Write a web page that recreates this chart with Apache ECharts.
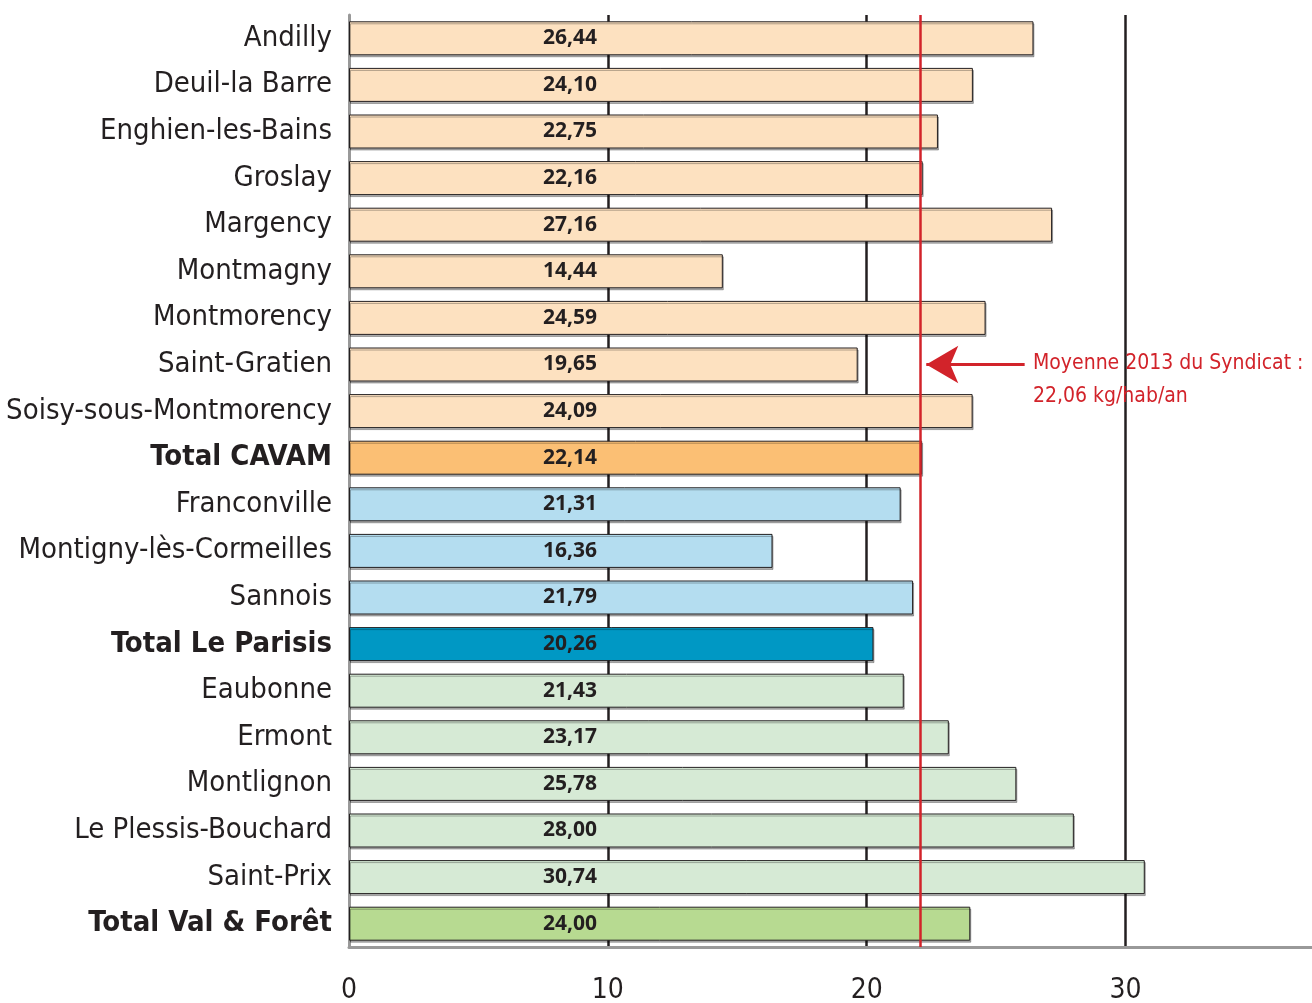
<!DOCTYPE html>
<html>
<head>
<meta charset="utf-8">
<script src="https://cdn.jsdelivr.net/npm/echarts@6/dist/echarts.min.js"></script>
<style>
  html, body { margin: 0; padding: 0; background: #fff; }
  #chart { width: 1312px; height: 1003px; }
</style>
</head>
<body>
<div id="chart"></div>
<script>
// communes, de haut en bas
var communes = ['Andilly', 'Deuil-la Barre', 'Enghien-les-Bains', 'Groslay', 'Margency',
  'Montmagny', 'Montmorency', 'Saint-Gratien', 'Soisy-sous-Montmorency', 'Total CAVAM',
  'Franconville', 'Montigny-lès-Cormeilles', 'Sannois', 'Total Le Parisis',
  'Eaubonne', 'Ermont', 'Montlignon', 'Le Plessis-Bouchard', 'Saint-Prix', 'Total Val & Forêt'];
var valeurs = [26.44, 24.10, 22.75, 22.16, 27.16, 14.44, 24.59, 19.65, 24.09, 22.14,
  21.31, 16.36, 21.79, 20.26, 21.43, 23.17, 25.78, 28.00, 30.74, 24.00];
// groupe de chaque barre (couleur)
var groupes = ['cavam', 'cavam', 'cavam', 'cavam', 'cavam', 'cavam', 'cavam', 'cavam', 'cavam', 'cavamTotal',
  'parisis', 'parisis', 'parisis', 'parisisTotal',
  'vf', 'vf', 'vf', 'vf', 'vf', 'vfTotal'];
var moyenne = 22.06;
var xTicks = [0, 10, 20, 30];

var couleurs = {
  cavam: '#fde1c0', cavamTotal: '#fbbf74',
  parisis: '#b4ddf0', parisisTotal: '#0098c4',
  vf: '#d6ead5', vfTotal: '#b7da91'
};
var rouge = '#d2232a';
var condensed = '"Liberation Sans Narrow", "DejaVu Sans Condensed", sans-serif';

var chart = echarts.init(document.getElementById('chart'));

var barData = valeurs.map(function (v, i) {
  return { value: v, itemStyle: { color: couleurs[groupes[i]] } };
});

var option = {
  animation: false,
  grid: { left: 349, right: 0, top: 15, bottom: 56, outerBoundsMode: 'none', containLabel: false },
  xAxis: {
    type: 'value',
    min: 0,
    max: 37.2,
    interval: 10,
    axisLine: { show: true, lineStyle: { color: '#999', width: 3 } },
    axisTick: { show: false },
    axisLabel: {
      color: '#231f20', fontSize: 28, fontFamily: condensed, margin: 30,
      showMaxLabel: false,
      formatter: function (v) { return xTicks.indexOf(v) >= 0 ? String(v) : ''; }
    },
    splitLine: {
      show: true,
      lineStyle: { color: ['transparent', '#231f20', '#231f20', '#231f20', 'transparent'], width: 2.5 }
    }
  },
  yAxis: {
    type: 'category',
    inverse: true,
    data: communes,
    axisLine: { show: true, lineStyle: { color: '#999', width: 3 } },
    axisTick: { show: false },
    axisLabel: {
      margin: 17,
      formatter: function (v) {
        return v.indexOf('Total') === 0 ? '{b|' + v + '}' : '{n|' + v + '}';
      },
      rich: {
        n: { fontSize: 29, fontFamily: condensed, color: '#231f20' },
        b: { fontSize: 29, fontFamily: condensed, fontWeight: 'bold', color: '#231f20' }
      }
    }
  },
  series: [
    {
      type: 'bar',
      data: barData,
      barWidth: 34,
      itemStyle: {
        borderColor: '#231f20', borderWidth: 1,
        shadowColor: 'rgba(0,0,0,0.3)', shadowOffsetX: 1, shadowOffsetY: 2, shadowBlur: 0
      },
      label: {
        show: true,
        position: [248, '50%'],
        align: 'right',
        verticalAlign: 'middle',
        fontSize: 21,
        fontWeight: 'bold',
        fontFamily: 'Open Sans, sans-serif',
        color: '#231f20',
        formatter: function (p) { return p.value.toFixed(2).replace('.', ','); }
      },
      markLine: {
        silent: true,
        symbol: 'none',
        label: { show: false },
        lineStyle: { color: rouge, width: 2.5, type: 'solid' },
        data: [{ xAxis: moyenne }]
      }
    },
    {
      // flèche de la moyenne
      type: 'line',
      data: [],
      markLine: {
        silent: true,
        symbol: ['none', 'arrow'],
        symbolSize: [28, 32],
        label: { show: false },
        lineStyle: { color: rouge, width: 3, type: 'solid' },
        data: [[{ coord: [26.1, 'Saint-Gratien'] }, { coord: [22.3, 'Saint-Gratien'] }]]
      }
    }
  ],
  graphic: [{
    type: 'text',
    left: 1033,
    top: 347,
    z: 100,
    style: {
      text: 'Moyenne 2013 du Syndicat :\n22,06 kg/hab/an',
      fill: rouge,
      fontSize: 21,
      lineHeight: 33,
      fontFamily: condensed
    }
  }]
};

chart.setOption(option);
</script>
</body>
</html>
